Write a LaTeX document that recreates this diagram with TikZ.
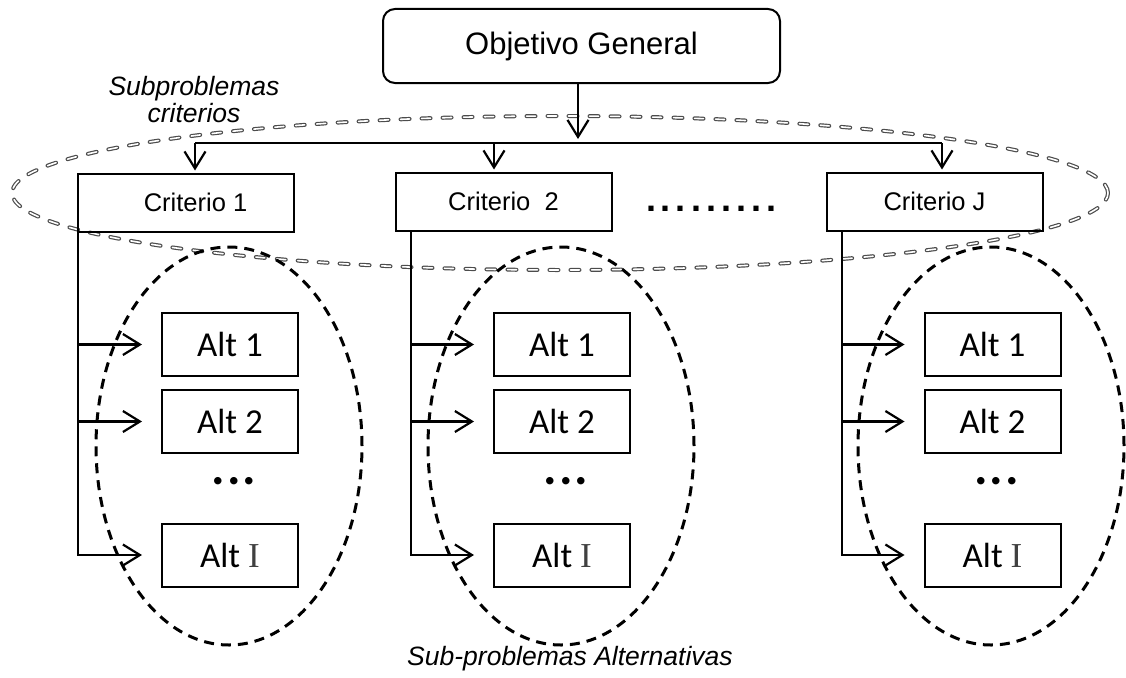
\documentclass[tikz,border=0pt]{standalone}
\usepackage{fontspec}
\setmainfont{Liberation Sans}
\newfontfamily\calib{Carlito}
\newfontfamily\serI{Liberation Serif}
\usetikzlibrary{arrows.meta}
\begin{document}
\begin{tikzpicture}[x=1pt,y=-1pt,
  every node/.style={inner sep=0pt, outer sep=0pt},
  objbox/.style={draw, line width=2pt, rounded corners=12pt, minimum width=397pt, minimum height=74pt, font=\fontsize{31}{36}\selectfont},
  critbox/.style={draw, line width=2pt, minimum width=216pt, minimum height=58pt, font=\fontsize{25.5}{30}\selectfont},
  altbox/.style={draw, line width=2pt, minimum width=136pt, minimum height=63pt, font=\calib\fontsize{35}{40}\selectfont},
  arr/.style={line width=2.2pt, -{Straight Barb[length=17pt,width=21pt,line width=2.2pt]}},
  conn/.style={line width=2.2pt},
  altell/.style={line width=3pt, dash pattern=on 10pt off 7pt},
  critellout/.style={draw=black!70, line width=4pt, line cap=round, dash pattern=on 9pt off 12pt},
  critellin/.style={draw=white, line width=1.6pt, line cap=round, dash pattern=on 9pt off 12pt},
  lbl/.style={font=\itshape\fontsize{26.5}{27}\selectfont, align=center},
  dotsA/.style={font=\calib\bfseries\itshape\fontsize{50}{50}\selectfont}
]
\useasboundingbox (0,0) rectangle (1126,677);

% ellipses
\draw[critellout] (560,193) ellipse [x radius=548pt, y radius=77pt];
\draw[critellin] (560,193) ellipse [x radius=548pt, y radius=77pt];
\draw[altell] (229,446) ellipse [x radius=133pt, y radius=199pt];
\draw[altell] (561,446) ellipse [x radius=133pt, y radius=199pt];
\draw[altell] (991,446) ellipse [x radius=133pt, y radius=199pt];

% top
\node[objbox] (obj) at (581.5,46) {Objetivo General};
\node[lbl] (sublbl) at (194,100) {Subproblemas\\criterios};

\node[critbox] (c1) at (185.5,202.5) {\hspace*{20pt}Criterio 1};
\node[critbox] (c2) at (503.5,201.5) {Criterio\ \ 2};
\node[critbox] (cJ) at (934.5,201.5) {Criterio J};
\node[font=\bfseries\fontsize{36}{36}\selectfont] (cdots) at (711,209)
  {.\kern5pt.\kern5pt.\kern5pt.\kern5pt.\kern5pt.\kern5pt.\kern5pt.\kern5pt.};

\coordinate (hub) at (578,143);
\coordinate (h1) at (195,143);
\coordinate (h2) at (494,143);
\coordinate (hJ) at (942,143);
\draw[arr, shorten >=4pt] (obj.south -| hub) -- (hub);
\draw[conn] (h1) -- (hJ);
\draw[arr, shorten >=3pt] (h1) -- (h1 |- c1.north);
\draw[arr, shorten >=3pt] (h2) -- (h2 |- c2.north);
\draw[arr, shorten >=3pt] (hJ) -- (hJ |- cJ.north);

% alternatives
\foreach \col/\cx/\vx/\cr in {1/230/78/c1, 2/562/411/c2, 3/992.5/842/cJ}{
  \node[altbox] (a\col1) at (\cx,344.5) {Alt 1};
  \node[altbox] (a\col2) at (\cx,421.5) {Alt 2};
  \node[altbox] (a\col3) at (\cx,555) {Alt {\serI\color{black!75}I}};
  \node[dotsA] (d\col) at (\cx+5,481) {.\kern2pt.\kern2pt.};
  \coordinate (v\col) at (\vx,231);
  \draw[arr, shorten >=20pt] (v\col) |- (a\col3.west);
  \draw[arr, shorten >=20pt] (a\col1.west -| v\col) -- (a\col1.west);
  \draw[arr, shorten >=20pt] (a\col2.west -| v\col) -- (a\col2.west);
}

\node[lbl] (altlbl) at (570,659) {Sub-problemas Alternativas};
\end{tikzpicture}
\end{document}
